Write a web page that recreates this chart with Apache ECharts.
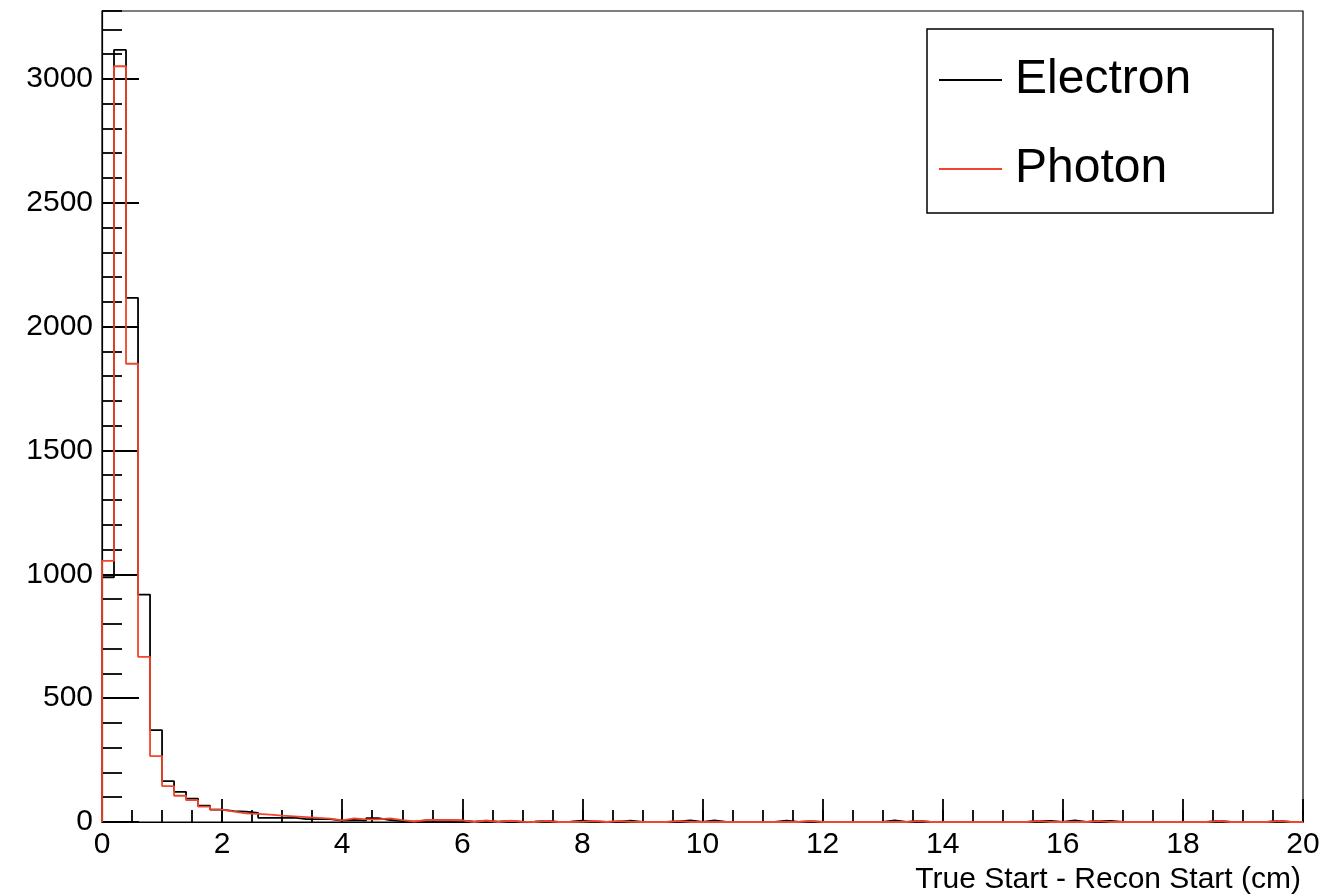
<!DOCTYPE html>
<html>
<head>
<meta charset="utf-8">
<script src="https://cdn.jsdelivr.net/npm/echarts@6/dist/echarts.min.js"></script>
<style>
  html, body { margin: 0; padding: 0; background: #ffffff; }
  #chart { width: 1333px; height: 896px; }
</style>
</head>
<body>
<div id="chart"></div>
<script>
// ---- data (100 bins of width 0.2 from 0 to 20) ----
const seriesNames = ['Electron', 'Photon'];
const binWidth = 0.2;
const xMin = 0;
const xMax = 20;
const yMax = 3274;
const xTickLabels = ['0', '2', '4', '6', '8', '10', '12', '14', '16', '18', '20'];
const yTickLabels = ['0', '500', '1000', '1500', '2000', '2500', '3000'];
const xTitle = 'True Start - Recon Start (cm)';

const electron = [
  988, 3117, 2116, 918, 371, 165, 122, 94, 66, 50,
  44, 42, 37, 17, 17, 18, 12, 12, 12, 6,
  8, 6, 16, 8, 4, 1, 6, 5, 6, 5,
  1, 4, 1, 4, 0, 1, 4, 0, 1, 5,
  2, 0, 1, 5, 0, 0, 0, 2, 6, 0,
  6, 0, 0, 0, 0, 0, 5, 0, 2, 0,
  0, 0, 0, 0, 0, 6, 0, 4, 0, 0,
  0, 0, 0, 0, 0, 0, 0, 4, 4, 0,
  6, 0, 4, 4, 0, 0, 0, 0, 0, 0,
  0, 0, 4, 0, 0, 0, 0, 4, 0, 0
];
const photon = [
  1054, 3051, 1850, 667, 266, 145, 106, 88, 62, 50,
  42, 35, 33, 30, 26, 23, 20, 17, 14, 7,
  15, 11, 11, 15, 8, 2, 8, 8, 8, 7,
  0, 6, 0, 5, 1, 0, 4, 0, 0, 1,
  4, 0, 4, 1, 0, 0, 0, 4, 0, 0,
  0, 0, 0, 0, 0, 0, 0, 0, 4, 0,
  0, 0, 0, 0, 0, 0, 0, 4, 0, 0,
  0, 0, 0, 0, 0, 0, 0, 4, 0, 0,
  0, 0, 4, 0, 0, 0, 0, 0, 0, 0,
  0, 0, 4, 0, 0, 0, 0, 4, 0, 0
];
const colors = ['#000000', '#f0462d'];

// histogram outline points: left bin edge with bin content, step 'end'
function histPoints(vals) {
  const pts = [[xMin, 0]];
  vals.forEach(function (v, i) { pts.push([xMin + i * binWidth, v]); });
  pts.push([xMax, vals[vals.length - 1]]);
  pts.push([xMax, 0]);
  return pts;
}

const FONT = '"Liberation Sans", Arial, Helvetica, sans-serif';
const chart = echarts.init(document.getElementById('chart'), null, { renderer: 'canvas' });

const gridBox = { left: 102, right: 30, top: 11, bottom: 74 };

chart.setOption({
  animation: false,
  backgroundColor: '#ffffff',
  title: {
    text: xTitle,
    right: 32,
    top: 865,
    padding: 0,
    textStyle: { fontFamily: FONT, fontSize: 30, fontWeight: 'normal', color: '#000' }
  },
  grid: Object.assign({ show: true, borderColor: '#000', borderWidth: 1.2, backgroundColor: 'transparent', containLabel: false }, gridBox),
  legend: {
    data: seriesNames,
    orient: 'vertical',
    left: 939,
    top: 55,
    padding: 0,
    icon: 'rect',
    itemWidth: 63,
    itemHeight: 2,
    itemGap: 39,
    textStyle: { fontFamily: FONT, fontSize: 48, lineHeight: 50, color: '#000', padding: [0, 0, 0, 8] }
  },
  graphic: [{
    type: 'rect',
    shape: { x: 927, y: 29, width: 346, height: 184 },
    style: { fill: 'none', stroke: '#000', lineWidth: 1.5 },
    z: 10
  }],
  xAxis: [{
    type: 'value',
    min: xMin, max: xMax, interval: 2,
    axisLine: { show: true, onZero: false, lineStyle: { color: '#000', width: 1.2 } },
    axisTick: { show: true, inside: true, length: 23, lineStyle: { color: '#000', width: 1.8 } },
    minorTick: { show: false },
    splitLine: { show: false },
    axisLabel: {
      margin: 8, fontFamily: FONT, fontSize: 30, color: '#000',
      formatter: function (v) { const i = Math.round((v - xMin) / 2); return xTickLabels[i] !== undefined ? xTickLabels[i] : ''; }
    }
  }, {
    type: 'value', position: 'bottom',
    min: xMin, max: xMax, interval: 0.5,
    axisLine: { show: false },
    axisTick: { show: true, inside: true, length: 12, lineStyle: { color: '#000', width: 1.8 } },
    axisLabel: { show: false },
    splitLine: { show: false }
  }],
  yAxis: [{
    type: 'value',
    min: 0, max: yMax, interval: 500,
    axisLine: { show: true, lineStyle: { color: '#000', width: 1.2 } },
    axisTick: { show: true, inside: true, length: 37, lineStyle: { color: '#000', width: 1.8 } },
    splitLine: { show: false },
    axisLabel: {
      margin: 9, fontFamily: FONT, fontSize: 30, color: '#000',
      showMaxLabel: false,
      formatter: function (v) { const i = Math.round(v / 500); return (v % 500 === 0 && yTickLabels[i] !== undefined) ? yTickLabels[i] : ''; }
    }
  }, {
    type: 'value', position: 'left',
    min: 0, max: yMax, interval: 100,
    axisLine: { show: false },
    axisTick: { show: true, inside: true, length: 20, lineStyle: { color: '#000', width: 1.8 } },
    axisLabel: { show: false },
    splitLine: { show: false }
  }],
  series: seriesNames.map(function (name, k) {
    const vals = k === 0 ? electron : photon;
    return {
      name: name,
      type: 'line',
      step: 'end',
      xAxisIndex: 0,
      yAxisIndex: 0,
      data: histPoints(vals),
      symbol: 'none',
      showSymbol: false,
      clip: false,
      color: colors[k],
      lineStyle: { color: colors[k], width: 1.8 },
      z: 3 + k
    };
  })
});
</script>
</body>
</html>
